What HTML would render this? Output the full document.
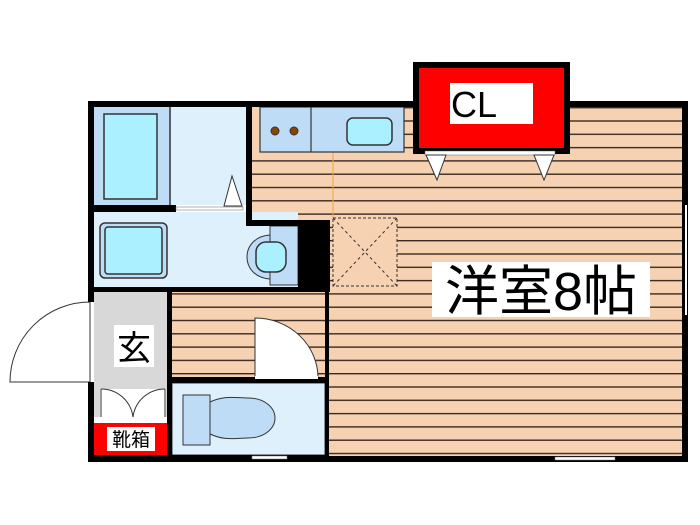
<!DOCTYPE html>
<html><head><meta charset="utf-8"><style>
html,body{margin:0;padding:0;background:#fff;}
svg{display:block;}
text{font-family:"Liberation Sans","Noto Sans CJK JP",sans-serif;}
</style></head><body>
<svg width="700" height="525" viewBox="0 0 700 525" xmlns="http://www.w3.org/2000/svg">
<defs>
<pattern id="fl" x="0" y="107" width="10" height="13.3" patternUnits="userSpaceOnUse">
<rect width="10" height="13.3" fill="#f6d2b3"/>
<rect y="0" width="10" height="1.4" fill="#3a2a20"/>
</pattern>
</defs>
<!-- main room floor -->
<rect x="252" y="101" width="436" height="361" fill="url(#fl)"/>
<rect x="252" y="101" width="80" height="120" fill="#f6d2b3"/>
<rect x="252" y="150" width="80" height="70" fill="url(#fl)"/>
<line x1="333" y1="152" x2="333" y2="218" stroke="#f3a23a" stroke-width="1"/>
<rect x="252" y="150" width="150" height="2" fill="#f6d2b3"/>
<!-- hall floor -->
<rect x="170" y="292" width="158" height="88" fill="url(#fl)"/>
<!-- kitchen counter -->
<rect x="260" y="107" width="144" height="45" fill="#bfdcf6" stroke="#333" stroke-width="1.2"/>
<line x1="311" y1="107" x2="311" y2="152" stroke="#333" stroke-width="1.2"/>
<circle cx="275" cy="131" r="4" fill="#8a4500" stroke="#333"/>
<circle cx="294" cy="131" r="4" fill="#8a4500" stroke="#333"/>
<rect x="347" y="118" width="45" height="27" rx="6" fill="#aaf0ff" stroke="#333" stroke-width="1.5"/>
<!-- dashed square -->
<rect x="333" y="218" width="64" height="68" fill="#f6d2b3" stroke="#333" stroke-dasharray="3,2"/>
<line x1="333" y1="218" x2="397" y2="286" stroke="#333" stroke-dasharray="3,3"/>
<line x1="397" y1="218" x2="333" y2="286" stroke="#333" stroke-dasharray="3,3"/>
<!-- bath -->
<rect x="94" y="107" width="76" height="98" fill="#bfdcf6"/>
<rect x="170" y="107" width="76" height="98" fill="#dff0fd"/>
<line x1="170" y1="107" x2="170" y2="205" stroke="#333" stroke-width="1.5"/>
<rect x="104" y="114" width="53" height="85" fill="#aaf0ff" stroke="#333" stroke-width="1.5"/>
<polygon points="232,176 224,206 242,206" fill="#fff" stroke="#333"/>
<!-- washroom -->
<rect x="94" y="212" width="204" height="75" fill="#dff0fd"/>
<rect x="270" y="226" width="28" height="59" fill="#bfdcf6" stroke="#333"/>
<rect x="100" y="223" width="67" height="55" rx="5" fill="#bfdcf6" stroke="#333" stroke-width="1.5"/>
<rect x="105" y="227" width="57" height="47" rx="3" fill="#aaf0ff" stroke="#333" stroke-width="1.5"/>
<path d="M270,235 C255,236 247,246 247,257 C247,268 255,278 270,279 Z" fill="#bfdcf6" stroke="#333"/>
<rect x="256" y="242" width="30" height="30" rx="10" fill="#aaf0ff" stroke="#333" stroke-width="1.5"/>
<!-- genkan -->
<rect x="94" y="292" width="74" height="125" fill="#d8d8d8"/>
<rect x="100" y="389" width="66" height="34" fill="#fff"/>
<path d="M101,389 A32,32 0 0 1 133,417 M133,417 A32,32 0 0 1 165,389" fill="none" stroke="#333"/>
<line x1="101" y1="389" x2="101" y2="417" stroke="#333"/>
<line x1="165" y1="389" x2="165" y2="417" stroke="#333"/>
<rect x="94" y="423" width="74" height="33" fill="#f00"/>
<rect x="107" y="427" width="48" height="24" fill="#fff"/>
<text x="131" y="446" font-size="19" text-anchor="middle" fill="#000">靴箱</text>
<rect x="114" y="325" width="40" height="42" fill="#fff"/>
<text x="134" y="360" font-size="34" text-anchor="middle" fill="#000">玄</text>
<!-- door outside -->
<path d="M90,302 A80,80 0 0 0 10,382 L90,382 Z" fill="#fff" stroke="#333"/>
<line x1="90" y1="302" x2="90" y2="382" stroke="#333"/>
<!-- hall door -->
<path d="M255,318 A63,60 0 0 1 318,378 L255,378 Z" fill="#fff" stroke="#333"/>
<!-- toilet -->
<rect x="172" y="383" width="153" height="72" fill="#dff0fd" stroke="#333"/>
<rect x="183" y="395" width="27" height="50" fill="#bfdcf6" stroke="#333"/>
<path d="M210,402 C225,395 235,398 248,398 C265,398 275,408 275,418 C275,428 265,438 248,438 C235,438 225,441 210,434 Z" fill="#bfdcf6" stroke="#333"/>
<!-- walls -->
<g fill="#000">
<rect x="88" y="101" width="164" height="6"/>
<rect x="252" y="101" width="165" height="6"/>
<rect x="566" y="101" width="122" height="6"/>
<rect x="682" y="101" width="6" height="361"/>
<rect x="327" y="456" width="361" height="6"/>
<rect x="88" y="101" width="6" height="201"/>
<rect x="88" y="382" width="6" height="80"/>
<rect x="88" y="455" width="240" height="7"/>
<rect x="88" y="205" width="88" height="7"/>
<rect x="246" y="101" width="6" height="125"/>
<rect x="246" y="220" width="84" height="6"/>
<rect x="298" y="220" width="32" height="70"/>
<rect x="88" y="287" width="242" height="5"/>
<rect x="167" y="292" width="5" height="166"/>
<rect x="168" y="377" width="160" height="6"/>
<rect x="325" y="290" width="4" height="172"/>
</g>
<rect x="176" y="207" width="67" height="3" fill="#fff" stroke="#666" stroke-width="0.5"/>
<rect x="255" y="376" width="63" height="3" fill="#fff"/>
<rect x="555" y="457" width="60" height="3" fill="#fff" stroke="#777" stroke-width="0.5"/>
<rect x="685" y="205" width="2" height="110" fill="#fff"/>
<rect x="252" y="456" width="35" height="3" fill="#fff" stroke="#777" stroke-width="0.5"/>
<!-- CL -->
<rect x="416" y="65" width="151" height="86" fill="#f00" stroke="#000" stroke-width="6"/>
<rect x="450" y="83" width="83" height="41" fill="#fff"/>
<text x="451" y="117" font-size="36" fill="#000">CL</text>
<rect x="425" y="151" width="130" height="4" fill="#fff" stroke="#666" stroke-width="0.5"/>
<polygon points="426,155 446,155 437,180" fill="#fff" stroke="#333"/>
<polygon points="534,155 554,155 544,180" fill="#fff" stroke="#333"/>
<!-- room label -->
<rect x="432" y="262" width="218" height="55" fill="#fff"/>
<text x="541" y="310" font-size="54" text-anchor="middle" fill="#000">洋室8帖</text>
</svg>
</body></html>
